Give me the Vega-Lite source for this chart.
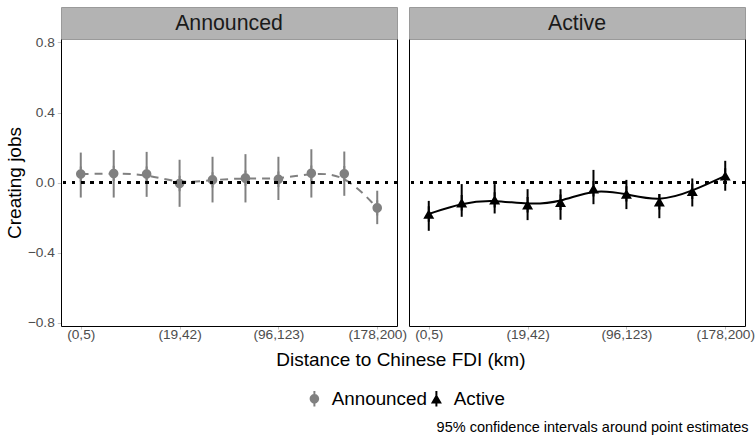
{
  "$schema": "https://vega.github.io/schema/vega-lite/v6.json",
  "padding": {"left": 5, "top": 6, "right": 0, "bottom": 0},
  "background": "white",
  "title": {"text": "95% confidence intervals around point estimates", "orient": "bottom", "anchor": "end", "fontSize": 14.5, "fontWeight": "normal", "color": "black", "font": "Liberation Sans", "offset": 12, "dx": -6},
  "config": {
    "font": "Liberation Sans",
    "view": {"stroke": null},
    "axis": {"grid": false, "domainColor": "black", "domainWidth": 1, "tickColor": "#c4c4c4", "labelColor": "#4d4d4d", "labelFont": "Liberation Sans", "labelFontSize": 13.7, "titleFont": "Liberation Sans", "titleFontSize": 19, "titleFontWeight": "normal", "titleColor": "black"},
    "legend": {"labelFont": "Liberation Sans", "labelFontSize": 18.8, "labelColor": "black"}
  },
  "datasets": {
    "est": [
      {"panel": "Announced", "bin": "(0,5)", "est": 0.048, "lo": -0.086, "hi": 0.171},
      {"panel": "Announced", "bin": "(5,11)", "est": 0.052, "lo": -0.086, "hi": 0.185},
      {"panel": "Announced", "bin": "(11,19)", "est": 0.048, "lo": -0.082, "hi": 0.175},
      {"panel": "Announced", "bin": "(19,42)", "est": -0.006, "lo": -0.139, "hi": 0.13},
      {"panel": "Announced", "bin": "(42,68)", "est": 0.015, "lo": -0.114, "hi": 0.147},
      {"panel": "Announced", "bin": "(68,96)", "est": 0.025, "lo": -0.114, "hi": 0.162},
      {"panel": "Announced", "bin": "(96,123)", "est": 0.019, "lo": -0.1, "hi": 0.147},
      {"panel": "Announced", "bin": "(123,151)", "est": 0.053, "lo": -0.086, "hi": 0.19},
      {"panel": "Announced", "bin": "(151,178)", "est": 0.05, "lo": -0.076, "hi": 0.177},
      {"panel": "Announced", "bin": "(178,200)", "est": -0.145, "lo": -0.238, "hi": -0.047},
      {"panel": "Active", "bin": "(0,5)", "est": -0.18, "lo": -0.276, "hi": -0.105},
      {"panel": "Active", "bin": "(5,11)", "est": -0.116, "lo": -0.196, "hi": -0.009},
      {"panel": "Active", "bin": "(11,19)", "est": -0.099, "lo": -0.177, "hi": -0.009},
      {"panel": "Active", "bin": "(19,42)", "est": -0.127, "lo": -0.215, "hi": -0.038},
      {"panel": "Active", "bin": "(42,68)", "est": -0.113, "lo": -0.213, "hi": -0.038},
      {"panel": "Active", "bin": "(68,96)", "est": -0.036, "lo": -0.124, "hi": 0.072},
      {"panel": "Active", "bin": "(96,123)", "est": -0.065, "lo": -0.152, "hi": 0.015},
      {"panel": "Active", "bin": "(123,151)", "est": -0.11, "lo": -0.204, "hi": -0.066},
      {"panel": "Active", "bin": "(151,178)", "est": -0.05, "lo": -0.137, "hi": 0.023},
      {"panel": "Active", "bin": "(178,200)", "est": 0.038, "lo": -0.047, "hi": 0.124}
    ],
    "strips": [{"panel": "Announced"}, {"panel": "Active"}]
  },
  "vconcat": [
    {
      "title": {"text": "Distance to Chinese FDI (km)", "orient": "bottom", "anchor": "middle", "fontSize": 19, "fontWeight": "normal", "color": "black", "font": "Liberation Sans", "offset": 10, "dx": 21},
      "spacing": 0,
      "hconcat": [
        {
          "spacing": 0,
          "bounds": "flush",
          "vconcat": [
            {
              "data": {"name": "strips"},
              "transform": [{"filter": "datum.panel === 'Announced'"}],
              "width": 336, "height": 32,
              "view": {"fill": "#b3b3b3", "stroke": "#9a9a9a"},
              "mark": {"type": "text", "fontSize": 21.3, "color": "#1a1a1a", "baseline": "middle", "align": "center", "font": "Liberation Sans", "dy": 1},
              "encoding": {"text": {"field": "panel", "type": "nominal"}}
            },
            {
              "data": {"name": "est"},
              "transform": [{"filter": "datum.panel === 'Announced'"}],
              "width": 336, "height": 287,
              "resolve": {"axis": {"y": "independent"}},
              "layer": [
                {
                  "mark": {"type": "point", "filled": true, "opacity": 1, "size": 121, "strokeWidth": 0},
                  "encoding": {
                    "x": {"field": "bin", "type": "ordinal", "sort": null, "scale": {"type": "point", "padding": 0.6}, "axis": {"values": ["(0,5)", "(19,42)", "(96,123)", "(178,200)"], "labelAngle": 0, "tickSize": 3, "labelPadding": -2, "title": null}},
                    "y": {"field": "est", "type": "quantitative", "scale": {"domain": [-0.82, 0.82], "nice": false, "zero": false}, "axis": {"orient": "left", "values": [-0.8, -0.4, 0, 0.4, 0.8], "format": ".1f", "title": "Creating jobs", "tickSize": 3.7, "labelPadding": 3, "titlePadding": 3}},
                    "color": {"field": "panel", "type": "nominal", "scale": {"domain": ["Announced", "Active"], "range": ["#808080", "#000000"]}, "legend": {"orient": "none", "legendX": 244, "legendY": 382, "direction": "horizontal", "title": null, "columnPadding": 0, "labelOffset": 8, "symbolSize": 121, "symbolStrokeWidth": 0}},
                    "shape": {"field": "panel", "type": "nominal", "scale": {"domain": ["Announced", "Active"], "range": ["M-0.864,0A0.864,0.864,0,1,1,0.864,0A0.864,0.864,0,1,1,-0.864,0ZM-0.18,-1.4L0.18,-1.4L0.18,1.4L-0.18,1.4Z", "M0,-0.866L1,0.866L-1,0.866ZM-0.18,-1.4L0.18,-1.4L0.18,1.4L-0.18,1.4Z"]}, "legend": {"orient": "none", "legendX": 244, "legendY": 382, "direction": "horizontal", "title": null, "columnPadding": 0, "labelOffset": 8, "symbolSize": 121, "symbolStrokeWidth": 0}}
                  }
                },
                {
                  "mark": {"type": "rule", "strokeWidth": 2, "color": "#808080"},
                  "encoding": {
                    "x": {"field": "bin", "type": "ordinal", "sort": null},
                    "y": {"field": "lo", "type": "quantitative", "axis": {"orient": "right", "labels": false, "ticks": false, "title": null}},
                    "y2": {"field": "hi"}
                  }
                },
                {
                  "mark": {"type": "line", "interpolate": "basis", "strokeDash": [8, 6], "strokeWidth": 2, "color": "#808080"},
                  "encoding": {
                    "x": {"field": "bin", "type": "ordinal", "sort": null},
                    "y": {"field": "est", "type": "quantitative", "axis": null}
                  }
                },
                {
                  "mark": {"type": "rule", "strokeDash": [2.8, 6.4], "strokeWidth": 2.8, "color": "black"},
                  "encoding": {"y": {"datum": 0, "type": "quantitative", "axis": null}}
                }
              ]
            }
          ]
        },
        {
          "spacing": 0,
          "bounds": "flush",
          "vconcat": [
            {
              "data": {"name": "strips"},
              "transform": [{"filter": "datum.panel === 'Active'"}],
              "width": 336, "height": 32,
              "view": {"fill": "#b3b3b3", "stroke": "#9a9a9a"},
              "mark": {"type": "text", "fontSize": 21.3, "color": "#1a1a1a", "baseline": "middle", "align": "center", "font": "Liberation Sans", "dy": 1},
              "encoding": {"text": {"field": "panel", "type": "nominal"}}
            },
            {
              "data": {"name": "est"},
              "transform": [{"filter": "datum.panel === 'Active'"}],
              "width": 336, "height": 287,
              "resolve": {"axis": {"y": "independent"}},
              "layer": [
                {
                  "mark": {"type": "point", "filled": true, "opacity": 1, "size": 121, "strokeWidth": 0},
                  "encoding": {
                    "x": {"field": "bin", "type": "ordinal", "sort": null, "scale": {"type": "point", "padding": 0.6}, "axis": {"values": ["(0,5)", "(19,42)", "(96,123)", "(178,200)"], "labelAngle": 0, "tickSize": 3, "labelPadding": -2, "title": null}},
                    "y": {"field": "est", "type": "quantitative", "scale": {"domain": [-0.82, 0.82], "nice": false, "zero": false}, "axis": {"orient": "left", "labels": false, "ticks": false, "title": null}},
                    "color": {"field": "panel", "type": "nominal"},
                    "shape": {"field": "panel", "type": "nominal"}
                  }
                },
                {
                  "mark": {"type": "rule", "strokeWidth": 2, "color": "black"},
                  "encoding": {
                    "x": {"field": "bin", "type": "ordinal", "sort": null},
                    "y": {"field": "lo", "type": "quantitative", "axis": {"orient": "right", "labels": false, "ticks": false, "title": null}},
                    "y2": {"field": "hi"}
                  }
                },
                {
                  "mark": {"type": "line", "interpolate": "basis", "strokeWidth": 2, "color": "black"},
                  "encoding": {
                    "x": {"field": "bin", "type": "ordinal", "sort": null},
                    "y": {"field": "est", "type": "quantitative", "axis": null}
                  }
                },
                {
                  "mark": {"type": "rule", "strokeDash": [2.8, 6.4], "strokeWidth": 2.8, "color": "black"},
                  "encoding": {"y": {"datum": 0, "type": "quantitative", "axis": null}}
                }
              ]
            }
          ]
        }
      ]
    }
  ]
}
